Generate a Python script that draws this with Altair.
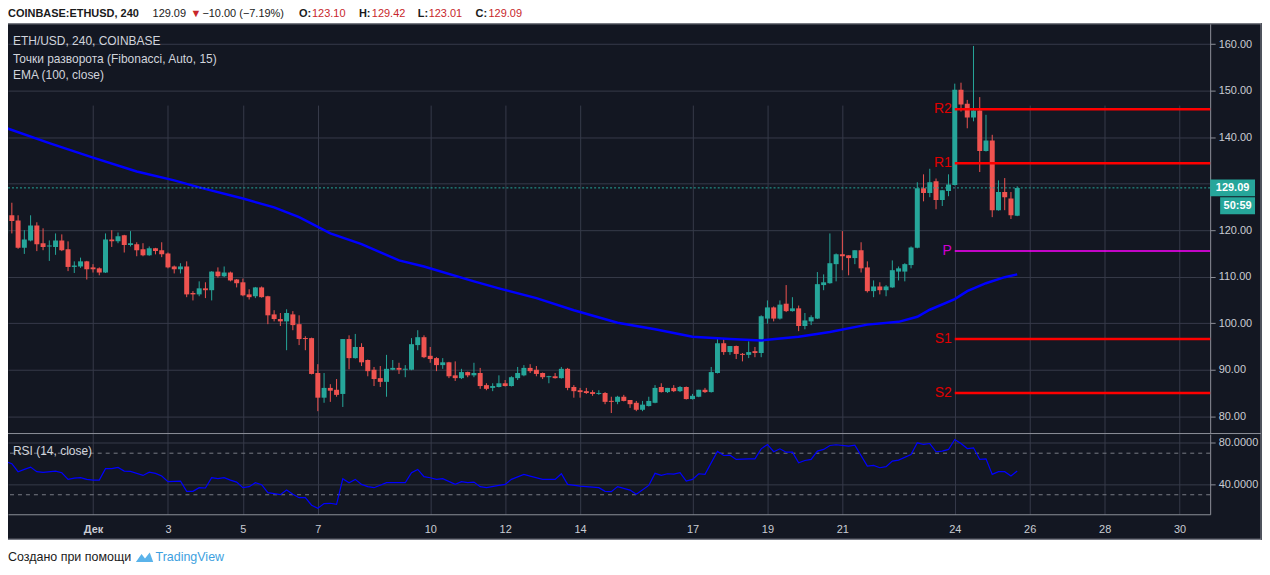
import altair as alt
import pandas as pd

# ---------------- data (4h bars, bar index k relative to 2018-12-01 00:00 UTC) ----------------
first_bar = -14
opens = [
    119.3, 123.2, 122.1, 116.2, 117.8, 121.0, 117.2, 116.5, 116.4, 117.8,
    115.9, 112.1, 112.2, 113.3,
    112.0, 111.8, 110.9, 118.0, 117.6, 118.9, 116.8, 117.0, 115.9, 114.6,
    116.1, 115.7, 115.0, 112.2, 111.6, 112.2, 106.5, 106.2, 107.5, 107.1,
    111.1, 110.1, 110.9, 109.4, 108.8, 106.2, 105.8, 107.7, 105.8, 101.9,
    100.9, 100.4, 101.9, 99.8, 96.8, 96.8, 89.3, 84.0, 86.1, 85.7,
    84.8, 96.6, 92.5, 94.9, 92.1, 90.0, 88.2, 87.4, 90.0, 90.4,
    90.0, 90.0, 95.3, 97.0, 93.0, 92.5, 91.0, 91.6, 88.8, 88.2,
    89.5, 88.8, 89.3, 86.7, 86.1, 86.3, 87.1, 86.5, 88.2, 88.8,
    90.4, 90.0, 89.3, 88.4, 88.6, 88.2, 90.2, 86.3, 85.6, 85.4,
    85.2, 84.8, 85.0, 83.3, 83.1, 84.2, 83.5, 82.9, 81.4, 82.2,
    82.9, 86.3, 85.2, 86.1, 85.4, 86.3, 83.7, 84.2, 85.7, 85.2,
    89.3, 95.7, 93.8, 95.1, 93.4, 93.2, 94.0, 93.6, 101.0, 103.4,
    101.0, 104.2, 102.6, 103.2, 99.4, 100.4, 101.0, 108.2, 108.6, 112.7,
    114.8, 114.6, 114.0, 115.7, 112.0, 106.9, 107.9, 107.1, 107.7, 111.1,
    111.1, 112.5, 116.2, 129.0, 128.0, 130.5, 126.5, 128.4, 129.7, 150.2,
    147.2, 144.2, 145.7, 137.0, 139.3, 124.3, 128.2, 126.8, 123.10,
]
highs = [
    123.4, 125.9, 123.2, 120.0, 123.2, 121.7, 120.4, 117.8, 119.3, 119.1,
    117.6, 113.3, 114.1, 113.4,
    112.7, 112.0, 119.3, 120.0, 119.5, 119.0, 119.8, 117.4, 117.2, 116.5,
    116.2, 117.4, 115.2, 112.4, 112.9, 113.3, 106.9, 109.0, 108.8, 111.2,
    112.0, 112.2, 111.1, 109.5, 109.6, 107.3, 107.8, 107.9, 105.9, 102.8,
    102.2, 103.0, 102.6, 101.7, 97.2, 96.9, 91.2, 89.3, 86.9, 88.0,
    96.6, 97.4, 97.7, 95.7, 92.2, 90.6, 90.8, 93.2, 92.1, 91.5,
    91.0, 96.8, 98.5, 97.4, 94.9, 92.7, 92.5, 91.7, 91.8, 90.2,
    89.6, 91.5, 90.4, 87.1, 87.1, 88.8, 87.8, 88.6, 90.6, 91.0,
    91.2, 90.8, 89.4, 88.7, 89.3, 90.6, 90.4, 86.7, 86.1, 86.1,
    85.6, 85.6, 85.2, 84.2, 84.4, 84.6, 83.5, 83.3, 83.3, 84.2,
    86.7, 87.1, 86.1, 86.7, 86.5, 86.4, 84.8, 85.7, 86.1, 90.6,
    97.0, 96.6, 95.1, 95.2, 93.6, 96.1, 94.9, 101.7, 104.9, 103.6,
    104.9, 108.2, 105.6, 103.8, 102.2, 101.7, 111.0, 110.5, 119.3, 115.0,
    119.8, 114.6, 115.7, 117.4, 113.3, 109.2, 108.8, 108.2, 113.5, 112.2,
    112.9, 116.5, 130.3, 132.0, 133.2, 131.1, 128.6, 132.0, 151.5, 151.7,
    148.0, 159.6, 148.6, 144.8, 140.5, 130.7, 131.2, 128.2, 129.42,
]
lows = [
    119.0, 119.3, 116.0, 114.9, 117.6, 115.5, 115.7, 113.4, 114.7, 115.5,
    111.2, 110.8, 111.9, 109.4,
    110.9, 110.3, 110.8, 116.4, 117.2, 115.2, 116.5, 114.4, 114.4, 114.5,
    114.8, 114.2, 111.8, 110.7, 110.7, 105.6, 104.9, 105.8, 105.4, 104.9,
    109.8, 109.9, 109.0, 107.7, 105.8, 105.1, 105.4, 105.5, 99.8, 100.4,
    99.4, 94.2, 98.5, 95.3, 94.2, 89.0, 81.1, 82.9, 83.1, 84.2,
    82.0, 90.1, 92.4, 90.8, 88.6, 86.5, 86.3, 84.2, 89.9, 89.1,
    88.4, 89.9, 94.2, 92.5, 91.5, 89.7, 90.2, 88.2, 87.6, 88.0,
    88.4, 88.4, 85.9, 85.6, 85.4, 86.2, 86.4, 86.4, 87.8, 88.6,
    89.3, 88.6, 88.0, 87.1, 88.1, 88.1, 85.6, 84.0, 84.0, 84.8,
    84.4, 84.6, 82.6, 80.7, 82.6, 83.2, 81.8, 81.1, 81.1, 82.1,
    82.8, 85.1, 85.0, 85.2, 85.2, 83.6, 83.6, 84.1, 85.0, 85.1,
    89.2, 93.2, 93.2, 92.3, 91.8, 92.5, 92.7, 92.7, 99.9, 100.4,
    100.8, 102.4, 102.5, 98.3, 98.7, 99.6, 100.9, 107.1, 108.5, 109.0,
    111.4, 110.3, 112.7, 110.9, 106.6, 105.6, 106.2, 105.8, 107.6, 109.2,
    109.0, 111.8, 116.1, 126.2, 127.1, 124.5, 125.2, 127.3, 129.6, 145.5,
    141.9, 143.4, 132.5, 136.9, 122.8, 124.2, 124.3, 122.4, 123.01,
]
closes = [
    123.2, 122.0, 116.2, 118.0, 121.0, 117.0, 116.4, 116.6, 117.8, 115.7,
    112.1, 112.4, 113.3, 111.6,
    111.6, 110.9, 118.0, 117.6, 118.7, 116.8, 117.2, 115.7, 114.6, 116.1,
    115.5, 114.8, 112.0, 111.6, 112.2, 106.2, 106.2, 107.5, 107.1, 111.1,
    110.1, 110.9, 109.2, 108.6, 106.0, 105.6, 107.7, 105.6, 101.7, 100.9,
    100.4, 102.2, 99.6, 96.6, 96.6, 89.1, 84.0, 86.1, 85.5, 84.6,
    96.6, 92.5, 94.9, 91.6, 89.7, 88.0, 87.4, 90.2, 90.4, 90.0,
    90.2, 95.5, 97.0, 92.7, 92.3, 91.0, 91.6, 88.6, 88.2, 89.5,
    88.8, 89.3, 86.5, 85.9, 86.5, 87.1, 86.5, 88.4, 89.3, 90.4,
    89.7, 89.1, 88.4, 88.6, 88.2, 90.2, 86.1, 85.4, 85.2, 85.0,
    84.8, 85.0, 83.1, 83.1, 84.2, 83.3, 82.6, 81.4, 82.5, 83.3,
    86.1, 85.2, 86.1, 85.4, 86.3, 83.7, 84.4, 85.7, 85.2, 89.5,
    95.7, 93.8, 95.1, 93.4, 93.2, 93.8, 93.6, 101.5, 103.4, 101.0,
    104.0, 102.6, 103.2, 99.4, 100.6, 101.3, 108.4, 108.8, 112.9, 114.8,
    114.4, 114.0, 115.7, 111.8, 106.9, 107.9, 107.1, 107.9, 111.4, 111.8,
    112.7, 116.3, 129.0, 128.0, 130.3, 126.5, 128.6, 129.8, 150.2, 147.0,
    144.2, 145.7, 137.0, 139.3, 124.3, 128.2, 127.1, 123.2, 129.09,
]

ema_bars = [-14, -7, 0, 7, 13, 17, 24, 29, 33, 38, 43, 49, 53, 61, 65, 71, 77, 84, 90,
            96, 102, 107, 113, 118, 124, 129, 132, 134, 138, 140, 143, 146, 148]
ema_vals = [142.0, 138.7, 135.6, 132.6, 130.7, 129.2, 126.8, 124.9, 122.8, 119.3, 117.0,
            113.5, 112.2, 109.0, 107.5, 105.4, 102.8, 100.1, 98.7, 97.1, 96.6, 96.3, 97.1,
            98.1, 99.7, 100.3, 101.4, 102.9, 105.2, 106.9, 108.6, 109.9, 110.5]

rsi_bars = [-14, -13, -12, -11, -10, -9, -8, -6, -5, -4, -3, -2, -1, 0, 1, 2, 3, 4, 5, 6,
            8, 9, 10, 11, 12, 14, 15, 16, 17, 18, 19, 20, 21, 22, 23, 24, 25, 26, 27, 28,
            30, 31, 32, 33, 34, 35, 36, 37, 38, 39, 40, 41, 42, 43, 44, 45, 47, 48, 50, 51,
            52, 53, 54, 55, 56, 58, 59, 60, 61, 62, 63, 65, 66, 67, 69, 70, 72, 74, 75, 76,
            78, 79, 81, 82, 83, 84, 86, 87, 89, 90, 91, 92, 93, 94, 95, 96, 97, 98, 99, 100,
            101, 102, 103, 105, 106, 107, 108, 109, 110, 111, 112, 113, 114, 115, 116, 117,
            118, 119, 121, 122, 124, 125, 126, 127, 128, 129, 131, 132, 133, 134, 135, 136,
            137, 138, 139, 140, 141, 142, 143, 144, 145, 146, 147, 148]
rsi_vals = [61.8, 59.9, 52.2, 54.4, 56.6, 52.2, 51.5, 52.8, 51.2, 44.8, 46.0, 46.4, 44.8,
            44.1, 44.1, 55.1, 55.1, 56.3, 52.8, 52.5, 48.6, 51.8, 50.6, 48.0, 42.6, 43.2,
            33.3, 33.3, 36.8, 36.5, 46.4, 45.5, 46.4, 44.1, 42.2, 36.8, 37.8, 41.6, 39.7,
            32.0, 30.1, 34.5, 30.4, 27.2, 27.2, 19.9, 17.0, 21.5, 21.8, 20.8, 45.5, 41.6,
            44.8, 40.0, 37.8, 36.8, 41.6, 41.6, 41.6, 51.2, 54.4, 47.4, 46.4, 44.8, 45.5,
            40.0, 42.6, 41.6, 42.2, 37.8, 36.8, 39.0, 40.0, 44.8, 49.6, 48.0, 44.8, 44.8,
            50.2, 40.0, 38.4, 37.8, 36.8, 33.3, 33.0, 37.8, 34.5, 30.4, 39.0, 50.6, 48.6,
            50.2, 49.9, 51.2, 43.2, 44.8, 50.2, 49.6, 60.8, 71.7, 67.8, 68.1, 64.0, 64.6,
            64.6, 74.2, 78.4, 71.4, 74.2, 71.0, 71.0, 60.8, 63.0, 64.0, 72.0, 73.6, 77.4,
            78.1, 76.8, 77.8, 57.6, 58.2, 56.0, 57.0, 62.4, 63.3, 68.8, 80.0, 78.4, 79.3,
            71.4, 72.0, 73.6, 83.2, 79.3, 74.5, 75.2, 64.0, 64.6, 49.6, 52.2, 52.2, 48.0,
            52.8]

pivot_names = ["R2", "R1", "S1", "S2"]
pivot_levels = [146.0, 134.4, 96.6, 85.0]
pivot_p_name = ["P"]
pivot_p_level = [115.5]
pivot_start_bar = 138
last_price = 129.09
countdown = "50:59"
rsi_bands = [70, 30]
price_ticks = [80, 90, 100, 110, 120, 130, 140, 150, 160]
rsi_ticks = [40, 80]
day_ticks = [1, 3, 5, 7, 10, 12, 14, 17, 19, 21, 24, 26, 28, 30]

# ---------------- styling ----------------
FONT = "Liberation Sans, Arial, sans-serif"
BG = "#131722"
GRID = "#363a49"
BORDER = "#8d9099"
LABEL = "#c9ccd3"
UP = "#26a69a"
DOWN = "#ef5350"
W, H = 1206, 492


def bar_time(k):
    t = pd.Timestamp("2018-12-01T00:00:00Z") + pd.Timedelta(hours=4 * k)
    return t.strftime("%Y-%m-%dT%H:%M:%SZ")


candles = pd.DataFrame({
    "t": [bar_time(first_bar + i) for i in range(len(opens))],
    "o": opens, "h": highs, "l": lows, "c": closes,
})
candles["dir"] = ["up" if c >= o else "down" for o, c in zip(opens, closes)]
ema_df = pd.DataFrame({"t": [bar_time(k) for k in ema_bars], "v": ema_vals})
rsi_df = pd.DataFrame({"t": [bar_time(k) for k in rsi_bars], "v": rsi_vals})
piv_df = pd.DataFrame({"t0": bar_time(pivot_start_bar), "t1": "2019-01-02T00:00:00Z",
                       "lvl": pivot_levels, "name": pivot_names})
pivp_df = pd.DataFrame({"t0": bar_time(pivot_start_bar), "t1": "2019-01-02T00:00:00Z",
                        "lvl": pivot_p_level, "name": pivot_p_name})
last_df = pd.DataFrame({"p": [last_price], "s": [f"{last_price:.2f}"], "cd": [countdown]})
band_df = pd.DataFrame({"lvl": rsi_bands})

x_scale = alt.Scale(type="utc", nice=False, domain=[
    alt.DateTime(year=2018, month=11, date=28, hours=17, minutes=32, utc=True),
    alt.DateTime(year=2018, month=12, date=30, hours=19, minutes=36, utc=True)])
x_axis = alt.Axis(
    values=[alt.DateTime(year=2018, month=12, date=d, utc=True) for d in day_ticks],
    labelExpr="utcdate(datum.value) == 1 ? 'Дек' : '' + utcdate(datum.value)",
    labelFontWeight={"condition": {"test": "utcdate(datum.value) == 1", "value": "bold"},
                     "value": "normal"},
    grid=True, gridColor=GRID, gridWidth=1, ticks=False, domain=True, domainColor=BORDER,
    labelColor=LABEL, labelFontSize=11, labelFont=FONT, labelPadding=9, title=None,
    labelFlush=False, labelOverlap=False)
x_enc = alt.X("t:T", scale=x_scale, axis=x_axis, title=None)

price_scale = alt.Scale(domain=[76.4, 164.35], range=[410.5, 0], nice=False, zero=False)
# the 130.00 label sits under the last-price marker, so it is left blank (grid line kept)
price_axis = alt.Axis(orient="right", values=price_ticks,
                      labelExpr="datum.value == 130 ? '' : format(datum.value, '.2f')",
                      grid=True, gridColor=GRID, tickSize=5, tickColor=BORDER,
                      domainColor=BORDER, labelColor=LABEL, labelFontSize=11, labelFont=FONT,
                      labelPadding=3, title=None)
rsi_scale = alt.Scale(domain=[11.22, 88.44], range=[492, 411.5], nice=False, zero=False)
rsi_axis = alt.Axis(orient="right", values=rsi_ticks, format=".4f", grid=True,
                    gridColor=GRID, tickSize=5, tickColor=BORDER, domainColor=BORDER,
                    labelColor=LABEL, labelFontSize=11, labelFont=FONT, labelPadding=3,
                    title=None)
color_enc = alt.Color("dir:N", scale=alt.Scale(domain=["up", "down"], range=[UP, DOWN]),
                      legend=None)

wicks = alt.Chart(candles).mark_rule(strokeWidth=1, clip=True).encode(
    x=x_enc, y=alt.Y("l:Q", scale=price_scale, axis=price_axis, title=None),
    y2="h:Q", color=color_enc)
bodies = alt.Chart(candles).transform_calculate(
    lo="min(datum.o, datum.c)",
    hi="max(max(datum.o, datum.c), min(datum.o, datum.c) + 0.22)",
).mark_rule(strokeWidth=5, clip=True).encode(
    x=x_enc, y=alt.Y("lo:Q", title=None), y2="hi:Q", color=color_enc)
ema = alt.Chart(ema_df).mark_line(color="#0000ff", strokeWidth=2.5, clip=True).encode(
    x=x_enc, y=alt.Y("v:Q", title=None))
last_line = alt.Chart(last_df).mark_rule(color=UP, strokeDash=[2, 2], strokeWidth=1).encode(
    y=alt.Y("p:Q", title=None))
piv_lines = alt.Chart(piv_df).mark_rule(color="#ff0000", strokeWidth=2.5, clip=True).encode(
    x=alt.X("t0:T", title=None), x2="t1:T", y=alt.Y("lvl:Q", title=None))
pivp_line = alt.Chart(pivp_df).mark_rule(color="#ff00ff", strokeWidth=1.5, clip=True).encode(
    x=alt.X("t0:T", title=None), x2="t1:T", y=alt.Y("lvl:Q", title=None))
piv_text = alt.Chart(piv_df).mark_text(align="right", baseline="middle", dx=-3, fontSize=14,
                                       font=FONT, color="#e00000").encode(
    x=alt.X("t0:T", title=None), y=alt.Y("lvl:Q", title=None), text="name:N")
pivp_text = alt.Chart(pivp_df).mark_text(align="right", baseline="middle", dx=-3, fontSize=14,
                                         font=FONT, color="#d000d0").encode(
    x=alt.X("t0:T", title=None), y=alt.Y("lvl:Q", title=None), text="name:N")
last_box = alt.Chart(last_df).mark_rule(color=UP, strokeWidth=17).encode(
    x=alt.value(W), x2=alt.value(W + 45), y=alt.Y("p:Q", title=None))
last_txt = alt.Chart(last_df).mark_text(color="white", fontSize=11, font=FONT,
                                        fontWeight="bold", baseline="middle").encode(
    x=alt.value(W + 22.5), y=alt.Y("p:Q", title=None), text="s:N")
cd_box = alt.Chart(last_df).mark_rule(color=UP, strokeWidth=17, yOffset=18).encode(
    x=alt.value(W + 10), x2=alt.value(W + 45), y=alt.Y("p:Q", title=None))
cd_txt = alt.Chart(last_df).mark_text(color="white", fontSize=11, font=FONT,
                                      fontWeight="bold", baseline="middle", yOffset=18).encode(
    x=alt.value(W + 27.5), y=alt.Y("p:Q", title=None), text="cd:N")

price_group = alt.layer(wicks, bodies, ema, last_line, piv_lines, pivp_line, piv_text,
                        pivp_text, last_box, last_txt, cd_box, cd_txt)

rsi_line = alt.Chart(rsi_df).mark_line(color="#0000ff", strokeWidth=1.2, clip=True).encode(
    x=x_enc, y=alt.Y("v:Q", scale=rsi_scale, axis=rsi_axis, title=None))
rsi_band = alt.Chart(band_df).mark_rule(color="#787b86", strokeDash=[4, 4], strokeWidth=1).encode(
    y=alt.Y("lvl:Q", title=None))
rsi_group = alt.layer(rsi_band, rsi_line)


def one():
    return pd.DataFrame({"a": [0]})


def rect(x, x2, y, y2, color):
    return alt.Chart(one()).mark_rect(color=color).encode(
        x=alt.value(x), x2=alt.value(x2), y=alt.value(y), y2=alt.value(y2))


def line(x, x2, y, y2, color, w=1):
    return alt.Chart(one()).mark_rule(color=color, strokeWidth=w).encode(
        x=alt.value(x), x2=alt.value(x2), y=alt.value(y), y2=alt.value(y2))


def txt(s, x, y, color, size=12, weight="normal", align="left"):
    return alt.Chart(pd.DataFrame({"s": [s]})).mark_text(
        align=align, baseline="middle", color=color, fontSize=size, fontWeight=weight,
        font=FONT).encode(x=alt.value(x), y=alt.value(y), text="s:N")


PANEL_R = 1257
PANEL_B = 517
deco = [
    rect(-2, 1262, -16, -0.5, "white"),
    rect(-2, 1262, PANEL_B + 0.5, 560, "white"),
    line(0, PANEL_R, 0, 0, BORDER),
    line(0, PANEL_R, PANEL_B, PANEL_B, BORDER),
    line(PANEL_R, PANEL_R, 0, PANEL_B, BORDER),
    line(0, PANEL_R, 411, 411, BORDER),
]

HDR_Y = -10
RED = "#c8262b"
BLACK = "#1a1a1a"
texts = [
    txt("COINBASE:ETHUSD, 240", 0, HDR_Y, BLACK, 11, "bold"),
    txt("129.09", 145, HDR_Y, BLACK, 11),
    txt("▼", 183, HDR_Y, RED, 11),
    txt("−10.00 (−7.19%)", 195, HDR_Y, BLACK, 11),
    txt("O:", 292, HDR_Y, BLACK, 11, "bold"),
    txt("123.10", 305, HDR_Y, RED, 11),
    txt("H:", 352, HDR_Y, BLACK, 11, "bold"),
    txt("129.42", 365, HDR_Y, RED, 11),
    txt("L:", 411, HDR_Y, BLACK, 11, "bold"),
    txt("123.01", 422, HDR_Y, RED, 11),
    txt("C:", 469, HDR_Y, BLACK, 11, "bold"),
    txt("129.09", 482, HDR_Y, RED, 11),
    txt("ETH/USD, 240, COINBASE", 5, 17.7, "#d1d4dc", 12),
    txt("Точки разворота (Fibonacci, Auto, 15)", 5, 35.7, "#d1d4dc", 12),
    txt("EMA (100, close)", 5, 51.7, "#d1d4dc", 12),
    txt("RSI (14, close)", 5, 429, "#d1d4dc", 12),
    txt("Создано при помощи", 0, 535, BLACK, 12.5),
    txt("TradingView", 148, 535, "#3d9fe0", 12.5),
]
logo = alt.Chart(one()).mark_point(
    shape="M-1,0.55 L-0.35,-0.35 L0.05,0.15 L0.6,-0.55 L1,0.55 Z",
    filled=True, color="#5ab3ea", size=300, opacity=1).encode(
    x=alt.value(137), y=alt.value(535))

chart = alt.layer(price_group, rsi_group, *deco, *texts, logo).resolve_scale(
    y="independent"
).properties(
    width=W, height=H,
    autosize=alt.AutoSizeParams(type="none"),
    padding={"left": 0, "top": 15, "right": 52, "bottom": 51},
).configure(background=BG).configure_view(stroke=None)

chart.save("out.html", embed_options={"renderer": "svg", "actions": False})
